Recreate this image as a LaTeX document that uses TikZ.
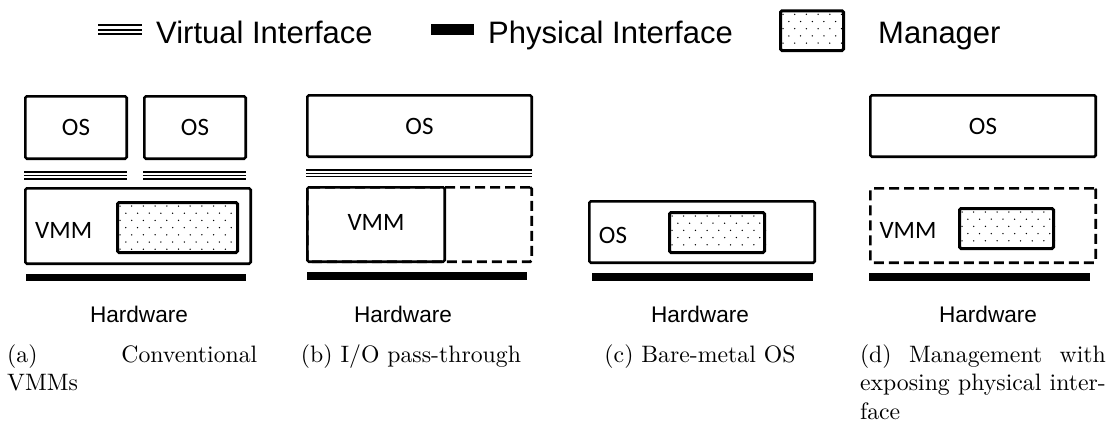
\documentclass[tikz,border=0pt]{standalone}
\usepackage{fontspec}
\usepackage{graphicx}
\newfontfamily\legendfont{Liberation Sans}
\newfontfamily\boxfont{Carlito}
\usetikzlibrary{fit}
\tolerance=9999
\newlength\capdwidth

% three thin parallel lines standing for a virtual interface
\newcommand\virtualif[4]{%
  \foreach \k in {0,1,2} \draw[vifline] (#1,{#3+\k*#4}) -- (#2,{#3+\k*#4});}

% staggered dot fill of a manager box
\newcommand\managerdots[1]{%
  \begin{scope}
    \clip (#1.south west) rectangle (#1.north east);
    \begin{scope}[shift={(#1.north west)}]
      \foreach \j in {0,...,8}{
        \foreach \i in {0,...,11}{
          \fill ({4+\i*11.7+mod(\j,2)*5.85},{5+\j*7.2}) circle (0.75pt);
        }
      }
    \end{scope}
  \end{scope}}

% sub-caption set at 10pt and enlarged
\newcommand\subcap[3]{\scalebox{2.375}{\parbox[t]{#1}{\hyphenpenalty=10000 #2#3}}}

\begin{document}
\begin{tikzpicture}[x=1pt,y=-1pt,
  box/.style={draw, line width=2.6pt, rounded corners=1.5pt, inner sep=0pt, fit={#1}},
  dashbox/.style={box={#1}, dash pattern=on 10pt off 5pt},
  mgrbox/.style={draw, line width=3pt, rounded corners=1.5pt, inner sep=0pt, fit={#1}},
  hwbar/.style={fill=black, inner sep=0pt, fit={#1}},
  vifline/.style={line width=1.6pt},
  boxtext/.style={inner sep=0pt, font=\boxfont\fontsize{25}{30}\selectfont},
  legtext/.style={inner sep=0pt, anchor=base west, font=\legendfont\fontsize{31}{36}\selectfont},
  hwtext/.style={inner sep=0pt, font=\legendfont\fontsize{22.6}{26}\selectfont},
  captext/.style={inner sep=0pt, anchor=north west, font=\fontsize{10}{12}\selectfont}
]
\useasboundingbox (0,0) rectangle (1110,423);

% ---------- legend ----------
\begin{scope}[vifline/.append style={line width=2pt}]
  \virtualif{98}{142}{25}{4.5}
\end{scope}
\node[legtext] (lgVirt) at (156,43) {Virtual Interface};
\node[hwbar={(431,24) (474,35)}] (lgPhysBar) {};
\node[legtext] (lgPhys) at (488,43) {Physical Interface};
\node[mgrbox={(780.5,10.8) (843.5,50.5)}] (lgMgr) {};
\managerdots{lgMgr}
\node[legtext] (lgMgrText) at (878,43) {Manager};

% ---------- (a) conventional VMMs ----------
\node[box={(25.3,96.3) (126.7,158.7)}] (osA1) {};
\node[boxtext] (osA1text) at (osA1.center) {OS};
\node[box={(144.3,96.3) (245.7,158.7)}] (osA2) {};
\node[boxtext] (osA2text) at (osA2.center) {OS};
\virtualif{24}{127}{172.2}{3.3}
\virtualif{143}{246}{172.2}{3.3}
\node[box={(25.3,188.3) (250.7,263.7)}] (vmmA) {};
\node[boxtext, anchor=west] (vmmAtext) at (35,230) {VMM};
\node[mgrbox={(117.5,202.5) (237.5,252.5)}] (mgrA) {};
\managerdots{mgrA}
\node[hwbar={(26,274) (246,281)}] (barA) {};
\node[hwtext] (hwA) at (139,314) {Hardware};

% ---------- (b) I/O pass-through ----------
\node[box={(307.3,95.3) (531.7,156.7)}] (osB) {};
\node[boxtext] (osBtext) at (osB.center) {OS};
\virtualif{306}{532}{170}{3.3}
\node[dashbox={(307.3,187.3) (531.7,261.7)}] (vmmBext) {};
\node[box={(307.3,187.3) (444.7,261.7)}] (vmmB) {};
\node[boxtext] (vmmBtext) at ([yshift=2pt]vmmB.center) {VMM};
\node[hwbar={(307,272) (527,280)}] (barB) {};
\node[hwtext] (hwB) at (403,314) {Hardware};

% ---------- (c) bare-metal OS ----------
\node[box={(589.3,201.3) (814.7,262.7)}] (osC) {};
\node[boxtext] (osCtext) at (613,235) {OS};
\node[mgrbox={(669.5,212.5) (764.5,252.5)}] (mgrC) {};
\managerdots{mgrC}
\node[hwbar={(592,273) (813,281)}] (barC) {};
\node[hwtext] (hwC) at (700,314) {Hardware};

% ---------- (d) management with exposed physical interface ----------
\node[box={(870.3,95.3) (1095.7,156.7)}] (osD) {};
\node[boxtext] (osDtext) at (osD.center) {OS};
\node[dashbox={(870.3,188.3) (1095.7,262.7)}] (vmmD) {};
\node[boxtext] (vmmDtext) at (908,230) {VMM};
\node[mgrbox={(959.5,208.5) (1053.5,248.5)}] (mgrD) {};
\managerdots{mgrD}
\node[hwbar={(869,273) (1090,281)}] (barD) {};
\node[hwtext] (hwD) at (988,314) {Hardware};

% ---------- sub-captions ----------
\node[captext] (capA) at (7,344) {\subcap{105.3pt}{}{(a) Conventional\linebreak VMMs}};
\node[captext, anchor=north] (capB) at (411,344) {\subcap{105.3pt}{\centering}{(b) I/O pass-through}};
\node[captext, anchor=north] (capC) at (700,344) {\subcap{105.3pt}{\centering}{(c) Bare-metal OS}};
\node[captext, anchor=north east] (capD) at (1106,344)
  {\settowidth{\capdwidth}{exposing physical inter-}\addtolength{\capdwidth}{0.3pt}%
   \subcap{\capdwidth}{}{(d) Management with\linebreak exposing physical inter-\linebreak face}};
\end{tikzpicture}
\end{document}
